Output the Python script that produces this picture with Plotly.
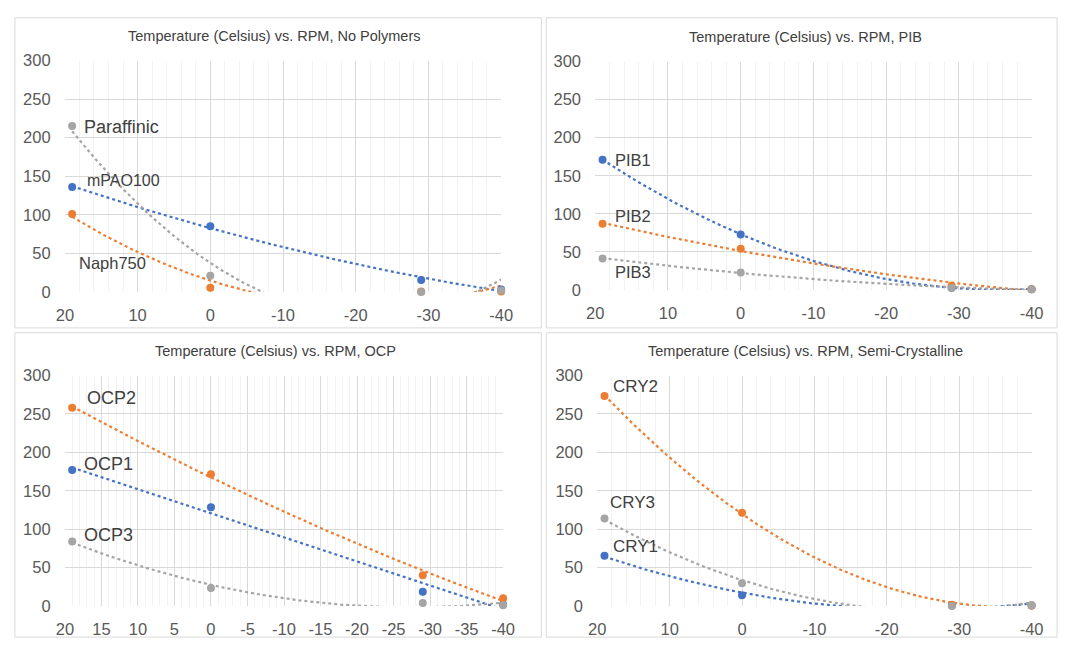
import numpy as np
import plotly.graph_objects as go

# ---------------- data ----------------
temps = [19, 0, -29, -40]

titles = [
    "Temperature (Celsius) vs. RPM, No Polymers",
    "Temperature (Celsius) vs. RPM, PIB",
    "Temperature (Celsius) vs. RPM, OCP",
    "Temperature (Celsius) vs. RPM, Semi-Crystalline",
]

# panel 1: No Polymers
mpao100 = [136, 85, 15.5, 3]
naph750 = [101, 5.5, 0.5, 0.5]
paraffinic = [215, 21, 0, 2]
# panel 2: PIB
pib1 = [171, 73, 3, 1]
pib2 = [87, 54, 5.5, 1]
pib3 = [41.5, 23, 2.5, 1]
# panel 3: OCP
ocp1 = [177, 128.5, 18.5, 2]
ocp2 = [258, 171.5, 40, 10]
ocp3 = [84, 23.5, 4, 1]
# panel 4: Semi-Crystalline
cry1 = [65.5, 14, 0.5, 0.5]
cry2 = [273.5, 121.5, 1.5, 0.5]
cry3 = [114, 29.5, 0, 1]

x_ticks_10 = [20, 10, 0, -10, -20, -30, -40]
x_ticks_5 = [20, 15, 10, 5, 0, -5, -10, -15, -20, -25, -30, -35, -40]
y_ticks = [0, 50, 100, 150, 200, 250, 300]

series_names = [
    ["mPAO100", "Naph750", "Paraffinic"],
    ["PIB1", "PIB2", "PIB3"],
    ["OCP1", "OCP2", "OCP3"],
    ["CRY1", "CRY2", "CRY3"],
]
series_values = [
    [mpao100, naph750, paraffinic],
    [pib1, pib2, pib3],
    [ocp1, ocp2, ocp3],
    [cry1, cry2, cry3],
]
# label anchor positions (data coords) for the series name texts
label_pos = [
    [(17.2, 145), (18.4, 38), (17.6, 214)],
    [(17.6, 171), (17.6, 97), (17.6, 24)],
    [(17.7, 185), (17.3, 271), (17.7, 92)],
    [(18.1, 77), (18.1, 286), (18.5, 135)],
]
label_size = [
    [16, 16.5, 18],
    [16.5, 16.5, 16.5],
    [18, 18, 18],
    [17, 17, 17],
]
x_ticks = [x_ticks_10, x_ticks_10, x_ticks_5, x_ticks_10]
x_minor = [2, 2, 1, 2]

colors = ["#4472C4", "#ED7D31", "#A5A5A5"]

W, H = 1072, 649
# plot areas in pixels: (left, right, top, bottom)
areas = [
    (57, 502, 53, 291),
    (598, 1043, 54, 289),
    (57, 504, 377, 614),
    (600, 1043, 377, 614),
]
frames = [
    (6, 543, 9, 328),
    (548, 1069, 9, 328),
    (6, 543, 333, 646),
    (548, 1069, 333, 646),
]

fig = go.Figure()
font_fam = "Liberation Sans, Arial, sans-serif"
tick_col = "#595959"

for p in range(4):
    xa = "x" if p == 0 else f"x{p+1}"
    ya = "y" if p == 0 else f"y{p+1}"
    for s in range(3):
        vals = series_values[p][s]
        coef = np.polyfit(temps, vals, 2)
        xs = np.linspace(max(temps), min(temps), 200)
        fig.add_trace(go.Scatter(
            x=xs, y=np.polyval(coef, xs), mode="lines",
            line=dict(color=colors[s], width=2.2, dash="dot"),
            xaxis=xa, yaxis=ya, showlegend=False, hoverinfo="skip",
        ))
    for s in range(3):
        fig.add_trace(go.Scatter(
            x=temps, y=series_values[p][s], mode="markers",
            marker=dict(color=colors[s], size=8),
            xaxis=xa, yaxis=ya, showlegend=False, cliponaxis=False,
            name=series_names[p][s],
        ))
        lx, ly = label_pos[p][s]
        fig.add_annotation(
            x=lx, y=ly, xref=xa, yref=ya, text=series_names[p][s],
            showarrow=False, xanchor="left", yanchor="middle",
            font=dict(size=label_size[p][s], color="#404040", family=font_fam),
        )
    l, r, t, b = areas[p]
    axx = dict(
        domain=[l / W, r / W], range=[20, -40], anchor=ya,
        tickmode="array", tickvals=x_ticks[p],
        ticktext=[str(v) for v in x_ticks[p]],
        showgrid=True, gridcolor="#d9d9d9",
        gridwidth=1, zeroline=False, showline=False,
        ticks="outside", ticklen=8, tickcolor="rgba(0,0,0,0)",
        tickfont=dict(size=16.5, color=tick_col, family=font_fam),
        minor=dict(dtick=x_minor[p], tick0=0, showgrid=True,
                   gridcolor="#f2f2f2", gridwidth=1),
    )
    axy = dict(
        domain=[1 - b / H, 1 - t / H], range=[0, 300], anchor=xa,
        tickmode="array", tickvals=y_ticks,
        ticktext=[str(v) for v in y_ticks],
        showgrid=True, gridcolor="#d9d9d9", gridwidth=1,
        zeroline=False, showline=False,
        ticks="outside", ticklen=10, tickcolor="rgba(0,0,0,0)",
        tickfont=dict(size=16.5, color=tick_col, family=font_fam),
    )
    fig.update_layout(**{("xaxis" if p == 0 else f"xaxis{p+1}"): axx,
                         ("yaxis" if p == 0 else f"yaxis{p+1}"): axy})
    fig.add_annotation(
        x=(l + r) / 2 / W - 0.008, y=1 - (t - 25) / H, xref="paper", yref="paper",
        text=titles[p], showarrow=False, xanchor="center", yanchor="middle",
        font=dict(size=14.5, color="#404040", family=font_fam),
    )
    fl, fr, ft, fb = frames[p]
    fig.add_shape(type="rect", xref="paper", yref="paper",
                  x0=fl / W, x1=fr / W, y0=1 - fb / H, y1=1 - ft / H,
                  line=dict(color="#d9d9d9", width=1), fillcolor="rgba(0,0,0,0)",
                  layer="below")

fig.update_layout(
    width=W, height=H, margin=dict(l=0, r=0, t=0, b=0),
    paper_bgcolor="white", plot_bgcolor="white", showlegend=False,
)

fig.write_html(
    "out.html",
    config={"displayModeBar": False},
    post_script="document.body.style.margin='0';document.body.style.overflow='hidden';",
)
